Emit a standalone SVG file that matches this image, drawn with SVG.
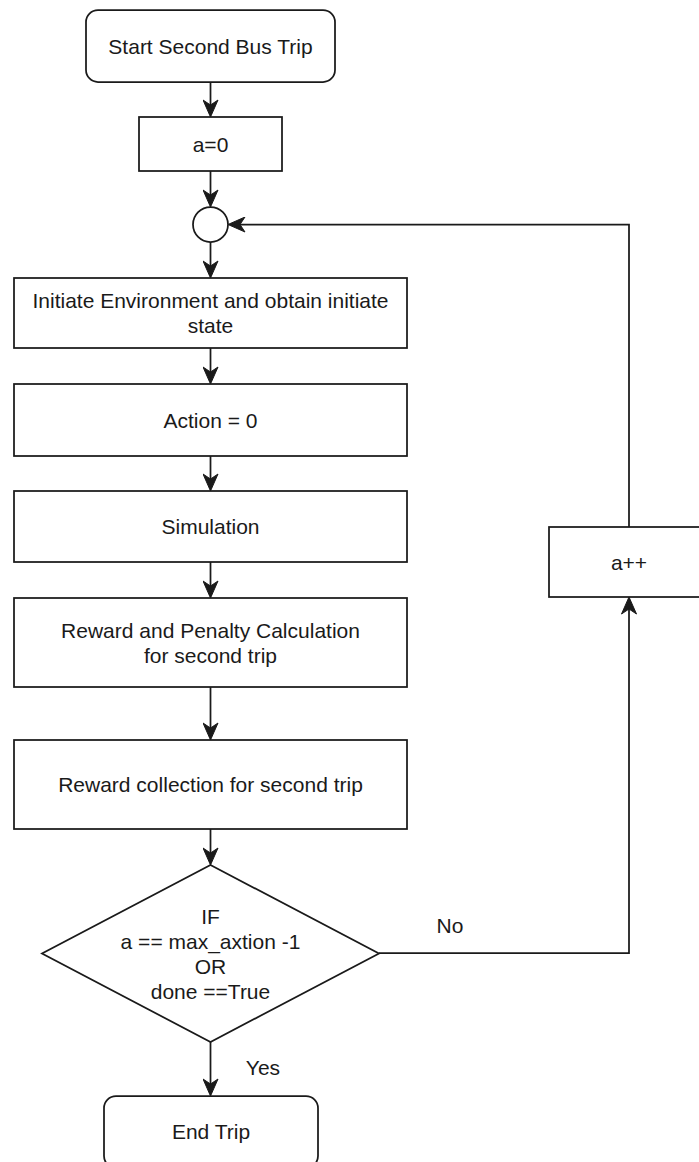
<svg xmlns="http://www.w3.org/2000/svg" width="699" height="1162" viewBox="0 0 699 1162">
  <defs>
    <style>
      .shape { fill: #ffffff; stroke: #1a1a1a; stroke-width: 1.75; }
      .edge { fill: none; stroke: #1a1a1a; stroke-width: 1.75; }
      .label { font-family: "Liberation Sans", Arial, sans-serif; font-size: 21px; fill: #1a1a1a; text-anchor: middle; }
    </style>
    <!-- classic notched arrowhead; tip sits 3px past the line end -->
    <marker id="arrow" markerUnits="userSpaceOnUse" viewBox="-16 -8 20 16" refX="0" refY="0" markerWidth="20" markerHeight="16" orient="auto">
      <path d="M3,0 L-14,-7.5 L-9,0 L-14,7.5 Z" fill="#1a1a1a" stroke="#1a1a1a" stroke-width="1"/>
    </marker>
  </defs>

  <rect width="699" height="1162" fill="#ffffff"/>

  <!-- connectors -->
  <g id="connectors">
    <line class="edge" x1="210.5" y1="82" x2="210.5" y2="114" marker-end="url(#arrow)"/>
    <line class="edge" x1="210.5" y1="171" x2="210.5" y2="204" marker-end="url(#arrow)"/>
    <line class="edge" x1="210.5" y1="242" x2="210.5" y2="275" marker-end="url(#arrow)"/>
    <line class="edge" x1="210.5" y1="348" x2="210.5" y2="381" marker-end="url(#arrow)"/>
    <line class="edge" x1="210.5" y1="456" x2="210.5" y2="488" marker-end="url(#arrow)"/>
    <line class="edge" x1="210.5" y1="562" x2="210.5" y2="595" marker-end="url(#arrow)"/>
    <line class="edge" x1="210.5" y1="687" x2="210.5" y2="737" marker-end="url(#arrow)"/>
    <line class="edge" x1="210.5" y1="829" x2="210.5" y2="862" marker-end="url(#arrow)"/>
    <line class="edge" x1="210.5" y1="1042" x2="210.5" y2="1093" marker-end="url(#arrow)"/>
    <!-- "No" branch up to the increment -->
    <polyline class="edge" points="379,953 629,953 629,600" marker-end="url(#arrow)"/>
    <!-- loop back to the junction -->
    <polyline class="edge" points="629,527 629,224.5 231,224.5" marker-end="url(#arrow)"/>
    <text class="label" x="450" y="933">No</text>
    <text class="label" x="263" y="1075">Yes</text>
  </g>

  <g id="start">
    <rect class="shape" x="86" y="10" width="249" height="72" rx="12" ry="12"/>
    <text class="label" x="210.5" y="53.5">Start Second Bus Trip</text>
  </g>

  <g id="init-a">
    <rect class="shape" x="139" y="117" width="143" height="54"/>
    <text class="label" x="210.5" y="151.5">a=0</text>
  </g>

  <g id="junction">
    <circle class="shape" cx="210.5" cy="224.5" r="17.5"/>
  </g>

  <g id="init-env">
    <rect class="shape" x="14" y="278" width="393" height="70"/>
    <text class="label" x="210.5" y="308">Initiate Environment and obtain initiate</text>
    <text class="label" x="210.5" y="333">state</text>
  </g>

  <g id="action">
    <rect class="shape" x="14" y="384" width="393" height="72"/>
    <text class="label" x="210.5" y="427.5">Action = 0</text>
  </g>

  <g id="simulation">
    <rect class="shape" x="14" y="491" width="393" height="71"/>
    <text class="label" x="210.5" y="534">Simulation</text>
  </g>

  <g id="reward-penalty">
    <rect class="shape" x="14" y="598" width="393" height="89"/>
    <text class="label" x="210.5" y="638">Reward and Penalty Calculation</text>
    <text class="label" x="210.5" y="663">for second trip</text>
  </g>

  <g id="reward-collection">
    <rect class="shape" x="14" y="740" width="393" height="89"/>
    <text class="label" x="210.5" y="792">Reward collection for second trip</text>
  </g>

  <g id="decision">
    <polygon class="shape" points="210.5,865 379,953.5 210.5,1042 42,953.5"/>
    <text class="label" x="210.5" y="924">IF</text>
    <text class="label" x="210.5" y="949">a == max_axtion -1</text>
    <text class="label" x="210.5" y="974">OR</text>
    <text class="label" x="210.5" y="999">done ==True</text>
  </g>

  <g id="increment">
    <rect class="shape" x="549" y="527" width="160" height="70"/>
    <text class="label" x="629" y="569.5">a++</text>
  </g>

  <g id="end">
    <rect class="shape" x="104" y="1096" width="214" height="72" rx="12" ry="12"/>
    <text class="label" x="211" y="1138.5">End Trip</text>
  </g>
</svg>
